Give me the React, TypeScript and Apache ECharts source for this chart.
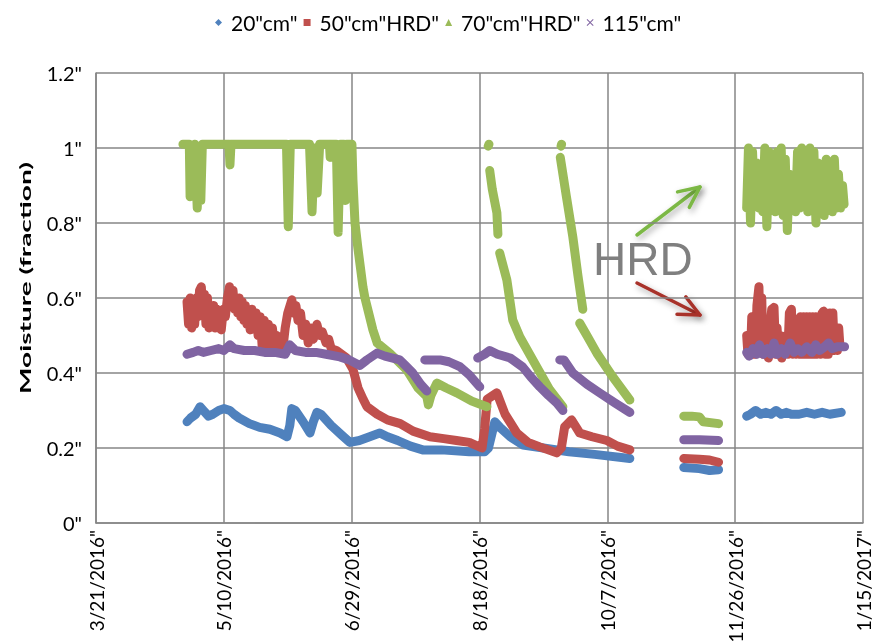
import React, { useEffect, useRef } from "react";
import * as echarts from "echarts";

type Pt = [number, number];

// x values are days counted from the first axis date, 3/21/2016
const AXIS_START_UTC = Date.UTC(2016, 2, 21);
const DAY_MIN = 0;
const DAY_MAX = 300;
const DAY_STEP = 50;
const MOISTURE_MIN = 0;
const MOISTURE_MAX = 1.2;
const MOISTURE_STEP = 0.2;

const SERIES_NAMES = ['20"cm"', '50"cm"HRD"', '70"cm"HRD"', '115"cm"'];
const SERIES_COLORS = ["#4F81BD", "#C0504D", "#9BBB59", "#8064A2"];

// 20 cm sensor, one list per logging period
const depth20: Pt[][] = [
  [[35.6, 0.27], [37, 0.28], [39, 0.29], [40.7, 0.31], [42, 0.3], [44, 0.285], [45.7, 0.29], [48, 0.3], [50, 0.305],
   [52.4, 0.3], [54, 0.29], [56, 0.28], [60, 0.265], [64, 0.255], [68, 0.25], [72, 0.24], [74.7, 0.23], [75.8, 0.26],
   [76.6, 0.305], [78, 0.3], [81, 0.27], [83.7, 0.24], [85, 0.27], [86.4, 0.295], [88, 0.29], [92, 0.26], [96, 0.235],
   [99.3, 0.215], [103, 0.22], [107, 0.23], [111, 0.24], [114, 0.23], [118, 0.22], [123, 0.205], [127.8, 0.195],
   [135, 0.195], [146, 0.19], [152, 0.19], [153.5, 0.2], [156, 0.27], [158, 0.255], [162, 0.23], [167, 0.208],
   [175, 0.2], [185, 0.19], [195, 0.183], [208.8, 0.172]],
  [[229.9, 0.148], [236, 0.145], [240, 0.14], [243.5, 0.142]],
  [[254.5, 0.285], [256, 0.29], [258, 0.3], [260, 0.29], [262, 0.295], [264, 0.29], [266, 0.3], [268, 0.29],
   [270, 0.295], [272, 0.29], [275, 0.29], [278, 0.295], [281, 0.29], [284, 0.295], [287, 0.29], [291.5, 0.295]],
];

// 50 cm sensor (HRD)
const depth50: Pt[][] = [
  [[35.6, 0.59], [36.2, 0.53], [36.8, 0.6], [37.4, 0.52], [38, 0.59], [38.6, 0.53], [39.2, 0.6], [39.8, 0.55],
   [40.5, 0.62], [41.2, 0.63], [41.8, 0.56], [42.4, 0.61], [43, 0.53], [43.6, 0.6], [44.2, 0.52], [44.8, 0.58],
   [45.4, 0.53], [46, 0.58], [46.6, 0.52], [47.2, 0.57], [47.8, 0.52], [48.4, 0.56], [49, 0.515], [49.8, 0.57],
   [50.6, 0.55], [51.4, 0.6], [52.2, 0.63], [52.9, 0.6], [53.6, 0.62], [54.2, 0.57], [54.8, 0.6], [55.4, 0.56],
   [56, 0.6], [56.6, 0.55], [57.2, 0.59], [57.8, 0.54], [58.4, 0.58], [59, 0.53], [59.6, 0.57], [60.3, 0.515],
   [61, 0.57], [61.8, 0.53], [62.6, 0.56], [63.4, 0.5], [64.2, 0.55], [65, 0.47], [65.8, 0.54], [66.6, 0.48],
   [67.4, 0.53], [68.2, 0.47], [69, 0.52], [69.8, 0.47], [70.6, 0.5], [71.4, 0.46], [72.2, 0.49], [73, 0.46],
   [74, 0.52], [75, 0.56], [76.6, 0.595], [77.4, 0.56], [78.2, 0.58], [79, 0.54], [80, 0.56], [81, 0.5], [82, 0.53],
   [83, 0.48], [84, 0.52], [85, 0.49], [86.4, 0.53], [87.5, 0.5], [88.5, 0.51], [90, 0.48], [91, 0.49], [92, 0.465],
   [94, 0.46], [96, 0.45], [98, 0.44], [100.5, 0.41], [102.5, 0.36], [104.5, 0.33], [106, 0.31], [110, 0.29],
   [114, 0.275], [119, 0.265], [124, 0.245], [130.6, 0.23], [136, 0.225], [141, 0.22], [146, 0.215], [151, 0.2],
   [152, 0.25], [153, 0.33], [156.8, 0.347], [160, 0.29], [164.6, 0.24], [169, 0.215], [173.6, 0.203],
   [180.2, 0.187], [182, 0.2], [183.3, 0.256], [186, 0.275], [189.2, 0.24], [194, 0.23], [199.8, 0.22],
   [204, 0.205], [208.8, 0.195]],
  [[229.9, 0.172], [236, 0.17], [240, 0.168], [243.5, 0.162]],
  [[254.5, 0.5], [255, 0.45], [255.5, 0.5], [256, 0.45], [256.5, 0.55], [257, 0.45], [257.5, 0.5], [258, 0.45],
   [258.5, 0.58], [259.3, 0.63], [259.8, 0.46], [260.4, 0.6], [260.9, 0.45], [261.5, 0.5], [262, 0.45],
   [262.5, 0.5], [263, 0.44], [263.6, 0.52], [264.3, 0.57], [265.2, 0.575], [265.8, 0.45], [266.4, 0.52],
   [267, 0.45], [267.6, 0.5], [268.2, 0.44], [268.8, 0.48], [269.4, 0.45], [270, 0.5], [270.6, 0.45], [271.2, 0.56],
   [272, 0.57], [272.6, 0.45], [273.2, 0.5], [273.8, 0.45], [274.4, 0.5], [275, 0.45], [275.5, 0.55], [276.1, 0.45],
   [276.7, 0.55], [277.3, 0.45], [277.9, 0.55], [278.5, 0.45], [279.1, 0.55], [279.7, 0.45], [280.3, 0.55],
   [280.9, 0.45], [281.5, 0.55], [282.1, 0.45], [282.7, 0.5], [283.3, 0.45], [284, 0.56], [284.6, 0.565],
   [285.2, 0.45], [285.8, 0.56], [286.4, 0.45], [287, 0.56], [287.6, 0.46], [288.2, 0.56], [288.8, 0.46],
   [289.4, 0.52], [290, 0.46], [290.5, 0.52], [291, 0.47]],
];

// 70 cm sensor (HRD)
const depth70: Pt[][] = [
  [[34, 1.01], [36.5, 1.01], [36.8, 0.87], [37.3, 1.0], [38, 0.9], [38.6, 1.01], [39.6, 0.84], [40.5, 1.0], [41, 0.86],
   [41.6, 1.01], [52, 1.01], [52.4, 0.955], [52.8, 1.01], [74.5, 1.01], [75.2, 0.79], [76, 1.01], [83.5, 1.01],
   [84.5, 0.83], [85.5, 1.0], [86.5, 0.88], [87.5, 1.01], [91.3, 1.01], [91.6, 0.975], [92, 1.01], [94, 1.01],
   [94.7, 0.775], [95.6, 1.01], [97, 1.01], [97.5, 0.86], [98, 1.01], [100.1, 1.01], [100.5, 0.915], [101.3, 0.8],
   [102.4, 0.735], [104.4, 0.63], [105.2, 0.6], [108.3, 0.515], [110, 0.48], [114.9, 0.453], [121.6, 0.408],
   [126, 0.36], [129.4, 0.337], [130, 0.315], [131, 0.34], [133.3, 0.373], [137, 0.36], [141.1, 0.347],
   [147, 0.325], [152.9, 0.31]],
  [[153.4, 1.005], [153.7, 1.01]],
  [[154, 0.94], [155, 0.89], [156.8, 0.827], [157.2, 0.77]],
  [[157.9, 0.72], [160.7, 0.648], [163, 0.541], [165.8, 0.496], [172.4, 0.416], [177.5, 0.355], [182.6, 0.31]],
  [[181.9, 1.005], [182.1, 1.01]],
  [[181.6, 0.975], [184, 0.87], [186.5, 0.763], [188.5, 0.66], [190.4, 0.57]],
  [[189.2, 0.533], [192, 0.5], [195.9, 0.453], [202.1, 0.39], [208.8, 0.328]],
  [[229.9, 0.285], [233, 0.285], [236, 0.283], [237.5, 0.27], [243.5, 0.265]],
  [[254.5, 0.84], [255.2, 1.0], [256, 0.8], [256.8, 0.99], [257.6, 0.85], [258.4, 0.96], [259.2, 0.84], [260, 0.94],
   [260.8, 0.83], [261.6, 1.0], [262.4, 0.79], [263.2, 0.99], [264, 0.86], [264.8, 0.95], [265.6, 0.83], [266.4, 0.99],
   [267.2, 0.84], [268, 1.0], [268.8, 0.82], [269.6, 0.97], [270.4, 0.78], [271.2, 0.93], [272, 0.84], [272.8, 0.9],
   [273.6, 0.83], [274.4, 0.99], [275.2, 0.84], [276, 1.0], [276.8, 0.85], [277.6, 0.95], [278.4, 0.83], [279.2, 1.0],
   [280, 0.84], [280.8, 0.99], [281.6, 0.8], [282.4, 0.96], [283.2, 0.85], [284, 0.93], [284.8, 0.82], [285.6, 0.97],
   [286.4, 0.84], [287.2, 0.95], [288, 0.83], [288.8, 0.97], [289.6, 0.84], [290.4, 0.93], [291.2, 0.84], [292, 0.9],
   [292.6, 0.85]],
];

// 115 cm sensor
const depth115: Pt[][] = [
  [[35.6, 0.45], [38, 0.455], [40, 0.46], [42, 0.455], [45, 0.46], [48, 0.465], [50, 0.46], [52.4, 0.475], [54, 0.465],
   [58, 0.46], [62, 0.46], [66, 0.455], [70, 0.455], [74, 0.45], [75.8, 0.475], [78, 0.46], [82, 0.455], [86, 0.455],
   [90, 0.45], [95.4, 0.443], [99, 0.435], [103.2, 0.42], [106, 0.435], [109.9, 0.453], [113, 0.445], [118.8, 0.435],
   [121, 0.42], [123.9, 0.4], [127, 0.37], [129.4, 0.352]],
  [[128.6, 0.435], [134.5, 0.435], [138, 0.43], [142.3, 0.417], [146, 0.395], [150.1, 0.363]],
  [[149.3, 0.44], [152, 0.45], [154, 0.46], [157, 0.45], [162, 0.44], [166.9, 0.416], [170, 0.39], [173.6, 0.363],
   [177, 0.34], [180.2, 0.32], [182.6, 0.3]],
  [[181.4, 0.435], [183, 0.435], [186.5, 0.4], [192, 0.37], [197, 0.347], [203, 0.32], [208.8, 0.295]],
  [[229.9, 0.222], [236, 0.222], [243.5, 0.22]],
  [[254.5, 0.455], [255.5, 0.445], [257, 0.465], [258.5, 0.45], [259.5, 0.475], [261, 0.45], [262.5, 0.465],
   [264, 0.45], [265.2, 0.48], [266.5, 0.45], [268, 0.465], [269.5, 0.45], [271.5, 0.48], [273, 0.455], [274.5, 0.465],
   [276, 0.455], [278, 0.47], [280, 0.455], [281.5, 0.475], [283, 0.46], [285, 0.47], [286.5, 0.48], [288, 0.465],
   [290, 0.47], [292.8, 0.47]],
];

const SERIES_DATA = [depth20, depth50, depth70, depth115];
const LEGEND_ICONS = [
  "diamond",
  "rect",
  "triangle",
  "path://M0,1L1,0L5,4L9,0L10,1L6,5L10,9L9,10L5,6L1,10L0,9L4,5Z",
];

const FONT = "Lato, 'Open Sans', sans-serif";

// join logging periods, leaving a break between them
function joinSegments(segs: Pt[][]): (number | string)[][] {
  const out: (number | string)[][] = [];
  segs.forEach((seg, i) => {
    if (i > 0) out.push([seg[0][0], "-"]);
    seg.forEach((p) => out.push([p[0], p[1]]));
  });
  return out;
}

function formatDay(v: number): string {
  const d = new Date(AXIS_START_UTC + v * 86400000);
  return `${d.getUTCMonth() + 1}/${d.getUTCDate()}/${d.getUTCFullYear()}"`;
}

function arrow(x1: number, y1: number, x2: number, y2: number, color: string) {
  const ang = Math.atan2(y1 - y2, x1 - x2);
  const len = 23;
  const spread = (25 * Math.PI) / 180;
  const a1: [number, number] = [x2 + len * Math.cos(ang + spread), y2 + len * Math.sin(ang + spread)];
  const a2: [number, number] = [x2 + len * Math.cos(ang - spread), y2 + len * Math.sin(ang - spread)];
  const style = {
    stroke: color,
    lineWidth: 3.5,
    fill: null,
    lineCap: "round",
    lineJoin: "round",
    shadowBlur: 6,
    shadowOffsetX: 2,
    shadowOffsetY: 3,
    shadowColor: "rgba(0,0,0,0.35)",
  };
  return [
    { type: "line", shape: { x1, y1, x2, y2 }, style },
    { type: "polyline", shape: { points: [a1, [x2, y2], a2] }, style },
  ];
}

export default function App() {
  const ref = useRef<HTMLDivElement>(null);

  useEffect(() => {
    if (!ref.current) return;
    const chart = echarts.init(ref.current, undefined, { renderer: "svg" });

    const axisGray = "#868686";

    chart.setOption({
      animation: false,
      textStyle: { fontFamily: FONT },
      grid: {
        left: 96,
        right: 15,
        top: 73,
        bottom: 121,
        containLabel: false,
        outerBoundsMode: "none",
      },
      legend: {
        top: 7,
        left: 210,
        itemWidth: 7,
        itemHeight: 7,
        itemGap: 6,
        selectedMode: false,
        textStyle: { fontSize: 21, color: "#000", fontFamily: FONT, padding: [0, 0, 0, 4] },
        data: SERIES_NAMES.map((name, i) => ({ name, icon: LEGEND_ICONS[i] })),
      },
      xAxis: {
        type: "value",
        min: DAY_MIN,
        max: DAY_MAX,
        interval: DAY_STEP,
        axisLine: { show: true, lineStyle: { color: axisGray, width: 1.5 } },
        axisTick: { show: false },
        splitLine: { show: true, lineStyle: { color: axisGray, width: 1.5 } },
        axisLabel: {
          rotate: 90,
          fontSize: 19,
          color: "#000",
          margin: 7,
          fontFamily: FONT,
          formatter: (v: number) => formatDay(v),
        },
      },
      yAxis: {
        type: "value",
        min: MOISTURE_MIN,
        max: MOISTURE_MAX,
        interval: MOISTURE_STEP,
        axisLine: { show: true, lineStyle: { color: axisGray, width: 1.5 } },
        axisTick: { show: false },
        splitLine: { show: true, lineStyle: { color: axisGray, width: 1.5 } },
        axisLabel: {
          fontSize: 20,
          color: "#000",
          margin: 14,
          fontFamily: FONT,
          formatter: (v: number) => `${Number(v.toFixed(1))}"`,
        },
      },
      series: SERIES_DATA.map((segs, i) => ({
        type: "line",
        name: SERIES_NAMES[i],
        data: joinSegments(segs),
        showSymbol: false,
        symbol: "none",
        connectNulls: false,
        silent: true,
        color: SERIES_COLORS[i],
        lineStyle: { width: 9, color: SERIES_COLORS[i], cap: "round", join: "round" },
        emphasis: { disabled: true },
      })),
      graphic: [
        {
          type: "text",
          x: 25,
          y: 278,
          rotation: Math.PI / 2,
          scaleX: 1.75,
          style: {
            text: "Moisture (fraction)",
            font: `bold 16px ${FONT}`,
            fill: "#000",
            align: "center",
            verticalAlign: "middle",
          },
        },
        {
          type: "text",
          x: 593,
          y: 259,
          style: {
            text: "HRD",
            font: "46px 'Liberation Sans', Arial, sans-serif",
            fill: "#7f7f7f",
            verticalAlign: "middle",
          },
        },
        ...arrow(637, 235, 700, 187, "#7cb845"),
        ...arrow(637, 283, 700, 315, "#a8322a"),
      ],
    });

    return () => chart.dispose();
  }, []);

  return (
    <div
      ref={ref}
      style={{ position: "fixed", left: 0, top: 0, width: 878, height: 644 }}
    />
  );
}
